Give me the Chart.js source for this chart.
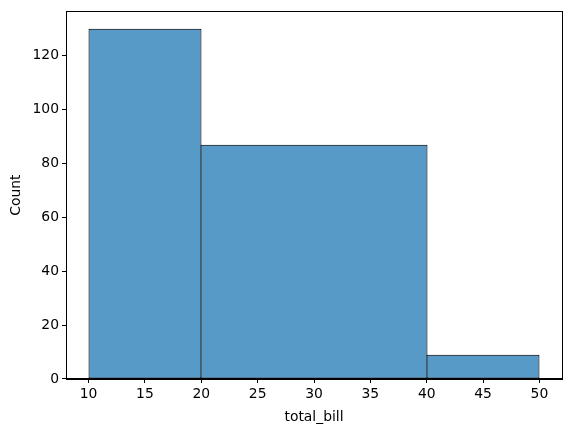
<!DOCTYPE html>
<html>
<head>
<meta charset="utf-8">
<script src="https://cdn.jsdelivr.net/npm/chart.js@4/dist/chart.umd.min.js"></script>
<style>
  html, body { margin: 0; padding: 0; background: #fff; }
  #wrap { width: 571px; height: 433px; }
</style>
</head>
<body>
<div id="wrap"><canvas id="hist" width="571" height="433"></canvas></div>
<script>
// ---------- Data ----------
const binEdges = [10, 20, 40, 50];
const counts   = [130, 87, 9];
const xTicks   = [10, 15, 20, 25, 30, 35, 40, 45, 50];
const yTicks   = [0, 20, 40, 60, 80, 100, 120];

const BAR_COLOR = 'rgba(31, 119, 180, 0.75)';
const FONT = { family: 'DejaVu Sans', size: 13.9 };

const points = counts.map((c, i) => ({ x: (binEdges[i] + binEdges[i + 1]) / 2, y: c }));

// stretch each bar to its bin edges on the x scale (edges overlap by 1px so borders merge)
const binWidthPlugin = {
  id: 'binWidth',
  afterDatasetsUpdate(chart) {
    const xs = chart.scales.x;
    const meta = chart.getDatasetMeta(0);
    meta.data.forEach((bar, i) => {
      const l = Math.round(xs.getPixelForValue(binEdges[i]));
      const r = Math.round(xs.getPixelForValue(binEdges[i + 1]));
      bar.x = (l + r) / 2;
      bar.width = r - l + 1;
    });
  }
};

// matplotlib-style box around the axes
const framePlugin = {
  id: 'frame',
  afterDraw(chart) {
    const { ctx, chartArea: a } = chart;
    ctx.save();
    ctx.strokeStyle = '#000';
    ctx.lineWidth = 1;
    ctx.strokeRect(Math.round(a.left) + 0.5, Math.round(a.top) + 0.5,
                   Math.round(a.right - a.left), Math.round(a.bottom - a.top));
    ctx.restore();
  }
};

new Chart(document.getElementById('hist'), {
  type: 'bar',
  data: {
    datasets: [{
      data: points,
      backgroundColor: BAR_COLOR,
      borderColor: '#000',
      borderWidth: 1,
      borderSkipped: false,
    }]
  },
  options: {
    responsive: false,
    animation: false,
    layout: { padding: { top: 10, right: 9, left: 8, bottom: 7 } },
    plugins: { legend: { display: false }, tooltip: { enabled: false } },
    scales: {
      x: {
        type: 'linear',
        offset: false,
        min: 8,
        max: 52,
        afterBuildTicks: s => { s.ticks = xTicks.map(v => ({ value: v })); },
        afterFit: s => { s.height = 47; },
        grid: { offset: false, drawOnChartArea: false, drawTicks: true, tickLength: 4, color: '#000' },
        border: { display: true, color: '#000' },
        ticks: { color: '#000', font: FONT, padding: 3, maxRotation: 0 },
        title: { display: true, text: 'total_bill', color: '#000', font: FONT, padding: { top: 1, bottom: 0 } }
      },
      y: {
        type: 'linear',
        min: 0,
        max: 136.5,
        afterBuildTicks: s => { s.ticks = yTicks.map(v => ({ value: v })); },
        afterFit: s => { s.width = 58; },
        grid: { drawOnChartArea: false, drawTicks: true, tickLength: 4, color: '#000' },
        border: { display: true, color: '#000' },
        ticks: { color: '#000', font: FONT, padding: 3 },
        title: { display: true, text: 'Count', color: '#000', font: FONT, padding: { top: 0, bottom: 2 } }
      }
    }
  },
  plugins: [binWidthPlugin, framePlugin]
});
</script>
</body>
</html>
